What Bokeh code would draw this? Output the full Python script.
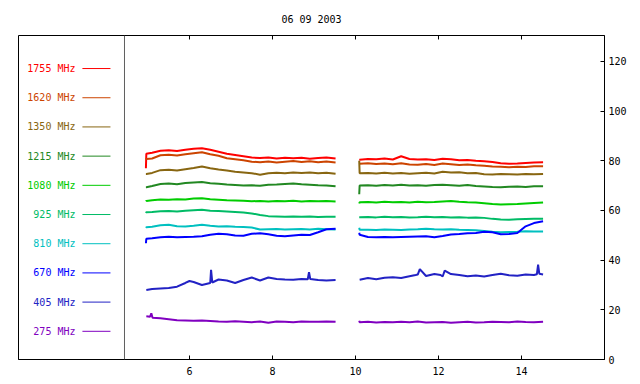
from bokeh.plotting import figure
from bokeh.models import LinearAxis, FixedTicker, Span, Label, Range1d
from bokeh.core.properties import value
from bokeh.embed import file_html
from bokeh.resources import INLINE

TITLE = "06 09 2003"
FREQS = ["1755 MHz", "1620 MHz", "1350 MHz", "1215 MHz", "1080 MHz",
         "925 MHz", "810 MHz", "670 MHz", "405 MHz", "275 MHz"]
COLORS = ["#FF0000", "#CC4400", "#886611", "#228822", "#00CC00",
          "#00BB66", "#00C0C0", "#0000FF", "#2222C4", "#8000C0"]
XTICKS = [6, 8, 10, 12, 14]
YTICKS = [0, 20, 40, 60, 80, 100, 120]

# time axes (UT hours)
t1 = [4.95, 4.96, 5.1, 5.3, 5.5, 5.7, 5.9, 6.1, 6.3, 6.5, 6.7, 6.9, 7.1, 7.3,
      7.5, 7.7, 7.9, 8.1, 8.3, 8.5, 8.7, 8.9, 9.1, 9.3, 9.52]
t2 = [10.09, 10.1, 10.3, 10.5, 10.7, 10.9, 11.1, 11.3, 11.5, 11.7, 11.9, 12.1,
      12.3, 12.5, 12.7, 12.9, 13.1, 13.3, 13.5, 13.7, 13.9, 14.1, 14.3, 14.52]
t405_1 = [4.96, 5.1, 5.3, 5.5, 5.7, 5.9, 6.0, 6.1, 6.2, 6.3, 6.45, 6.5, 6.52,
          6.55, 6.7, 6.9, 7.1, 7.3, 7.5, 7.7, 7.9, 8.1, 8.3, 8.5, 8.7, 8.85,
          8.88, 8.91, 9.1, 9.3, 9.52]
t405_2 = [10.1, 10.3, 10.5, 10.7, 10.9, 11.1, 11.3, 11.45, 11.5, 11.55, 11.7,
          11.9, 12.05, 12.1, 12.15, 12.3, 12.5, 12.7, 12.9, 13.1, 13.3, 13.5,
          13.7, 13.9, 14.1, 14.3, 14.37, 14.4, 14.43, 14.52]
t275_1 = [4.96, 5.05, 5.08, 5.11, 5.3, 5.5, 5.7, 5.9, 6.1, 6.3, 6.5, 6.7, 6.9,
          7.1, 7.3, 7.5, 7.7, 7.9, 8.1, 8.3, 8.5, 8.7, 8.9, 9.1, 9.3, 9.52]

# flux values (sfu) per frequency, morning segment / afternoon segment
f1755_a = [77.0, 82.8, 83.2, 84.0, 84.2, 83.9, 84.4, 84.8, 85.0, 84.4, 83.6,
           82.8, 82.3, 81.8, 81.3, 81.1, 81.3, 80.9, 81.2, 81.0, 81.2, 80.8,
           81.1, 81.3, 80.9]
f1755_b = [80.4, 80.4, 80.7, 80.6, 80.9, 80.5, 81.8, 80.7, 80.5, 80.6, 80.3,
           80.8, 80.6, 80.2, 80.3, 80.0, 79.8, 79.5, 79.0, 78.8, 78.9, 79.1,
           79.3, 79.4]
f1620_a = [80.5, 80.7, 80.9, 82.2, 82.4, 82.1, 82.6, 83.0, 83.4, 82.6, 82.0,
           81.0, 80.6, 80.2, 79.6, 79.4, 79.7, 79.3, 79.6, 79.9, 79.5, 79.8,
           79.4, 79.7, 79.3]
f1620_b = [78.8, 78.8, 79.0, 78.7, 78.9, 78.6, 79.0, 78.5, 78.4, 78.7, 78.3,
           78.9, 78.6, 78.3, 78.5, 78.2, 78.0, 77.7, 77.6, 77.4, 77.6, 77.5,
           77.8, 77.8]
f1350_a = [74.7, 74.7, 75.1, 76.2, 76.4, 76.1, 76.6, 77.1, 77.7, 77.0, 76.5,
           76.1, 75.6, 75.3, 75.0, 74.4, 75.0, 75.2, 75.0, 75.3, 75.1, 75.3,
           75.0, 75.2, 74.8]
f1350_b = [80.0, 75.0, 75.1, 74.9, 75.2, 74.9, 75.1, 74.8, 75.0, 75.2, 74.9,
           75.6, 75.3, 75.4, 75.0, 75.1, 74.6, 74.5, 74.7, 74.6, 74.5, 74.7,
           74.6, 74.7]
f1215_a = [69.3, 69.3, 69.8, 70.6, 70.8, 70.5, 71.0, 71.2, 71.4, 70.9, 70.7,
           70.4, 70.2, 70.0, 70.1, 69.9, 70.3, 70.4, 70.6, 70.8, 70.5, 70.3,
           70.1, 70.0, 69.7]
f1215_b = [66.5, 70.0, 70.1, 69.9, 70.2, 70.0, 70.3, 70.0, 70.1, 69.9, 70.2,
           70.3, 70.1, 69.9, 70.2, 69.8, 69.6, 69.4, 69.3, 69.5, 69.6, 69.4,
           69.7, 69.7]
f1080_a = [63.6, 63.8, 64.1, 64.4, 64.3, 64.5, 64.4, 64.8, 64.9, 64.5, 64.3,
           64.1, 64.0, 63.9, 63.7, 63.8, 63.6, 63.8, 63.7, 63.9, 63.6, 63.8,
           63.7, 63.8, 63.6]
f1080_b = [62.8, 63.3, 63.4, 63.2, 63.5, 63.3, 63.4, 63.2, 63.5, 63.3, 63.4,
           63.6, 63.8, 63.5, 63.3, 63.2, 62.9, 62.6, 62.4, 62.5, 62.6, 62.8,
           63.0, 63.2]
f925_a = [59.0, 59.3, 59.4, 59.7, 59.8, 59.6, 59.9, 60.1, 60.3, 59.9, 59.8,
          59.6, 59.4, 59.2, 58.8, 58.2, 57.7, 57.6, 57.5, 57.6, 57.5, 57.6,
          57.4, 57.5, 57.5]
f925_b = [57.3, 57.3, 57.4, 57.2, 57.5, 57.3, 57.4, 57.2, 57.3, 57.5, 57.3,
          57.4, 57.2, 57.3, 57.1, 57.2, 57.0, 56.6, 56.3, 56.2, 56.4, 56.5,
          56.6, 56.6]
f810_a = [53.0, 53.2, 53.4, 54.0, 54.2, 53.6, 53.5, 53.8, 54.2, 53.8, 53.5,
          53.6, 53.4, 53.3, 53.1, 52.3, 52.4, 52.5, 52.3, 52.4, 52.5, 52.3,
          52.6, 52.4, 52.3]
f810_b = [53.0, 52.2, 52.2, 52.1, 52.3, 52.2, 52.1, 52.3, 52.4, 52.6, 52.4,
          52.3, 52.4, 52.2, 52.1, 52.0, 51.7, 51.4, 51.2, 51.3, 51.4, 51.6,
          51.5, 51.5]
f670_a = [46.8, 48.6, 48.8, 49.2, 49.4, 49.2, 49.3, 49.4, 49.6, 50.2, 50.6,
          50.4, 49.9, 49.8, 50.6, 50.8, 50.4, 49.8, 49.6, 49.9, 50.2, 50.1,
          51.2, 52.4, 52.6]
f670_b = [51.0, 50.2, 49.3, 49.2, 49.3, 49.2, 49.3, 49.4, 49.5, 49.6, 49.2,
          49.7, 50.3, 50.5, 50.8, 50.9, 51.4, 51.2, 50.4, 50.5, 50.9, 53.6,
          54.9, 55.6]
f405_a = [28.0, 28.4, 28.6, 28.8, 29.3, 30.8, 31.6, 31.2, 30.6, 30.0, 30.6,
          30.8, 36.1, 31.0, 32.2, 31.8, 30.8, 32.0, 33.0, 31.8, 33.0, 32.4,
          32.2, 32.1, 32.4, 32.3, 35.1, 32.4, 32.0, 31.8, 32.0]
f405_b = [32.1, 32.8, 32.3, 32.9, 33.1, 32.8, 33.5, 34.0, 34.2, 36.4, 33.6,
          34.4, 34.0, 33.4, 35.8, 34.4, 34.0, 33.5, 33.8, 33.4, 34.0, 34.5,
          33.9, 33.7, 34.2, 34.0, 34.3, 38.2, 34.5, 34.2]
f275_a = [17.4, 17.2, 18.6, 16.8, 16.6, 16.2, 15.8, 15.7, 15.6, 15.7, 15.5,
          15.3, 15.2, 15.4, 15.2, 15.0, 15.3, 14.8, 15.3, 15.2, 15.0, 15.3,
          15.2, 15.2, 15.3, 15.2]
f275_b = [15.6, 15.0, 15.2, 14.9, 15.1, 15.0, 15.2, 15.0, 15.3, 14.9, 15.0,
          15.1, 14.8, 15.0, 15.2, 14.9, 15.0, 15.2, 15.1, 15.0, 15.3, 15.1,
          15.0, 15.2]

SERIES = [
    ((t1, f1755_a), (t2, f1755_b)),
    ((t1, f1620_a), (t2, f1620_b)),
    ((t1, f1350_a), (t2, f1350_b)),
    ((t1, f1215_a), (t2, f1215_b)),
    ((t1, f1080_a), (t2, f1080_b)),
    ((t1, f925_a), (t2, f925_b)),
    ((t1, f810_a), (t2, f810_b)),
    ((t1, f670_a), (t2, f670_b)),
    ((t405_1, f405_a), (t405_2, f405_b)),
    ((t275_1, f275_a), (t2, f275_b)),
]

FONT = "DejaVu Sans Mono"
FS = "10px"
X_MIN, X_MAX = 1.88, 16.0
Y_MIN, Y_MAX = 0.0, 130.4

p = figure(width=632, height=378, output_backend="svg", toolbar_location=None,
           x_range=Range1d(X_MIN, X_MAX), y_range=Range1d(Y_MIN, Y_MAX),
           x_axis_location=None, y_axis_location=None,
           min_border_left=18, min_border_right=28, min_border_top=35,
           min_border_bottom=19, title=TITLE)
p.grid.visible = False
p.outline_line_color = "black"
p.outline_line_width = 1
p.background_fill_color = "white"
p.border_fill_color = "white"

p.title.align = "center"
p.title.text_font = FONT
p.title.text_font_size = FS
p.title.text_font_style = "normal"
p.title.text_color = "black"
p.title.standoff = 22

def style_axis(ax):
    ax.major_tick_in = 4
    ax.major_tick_out = 0
    ax.minor_tick_in = 0
    ax.minor_tick_out = 0
    ax.axis_line_color = "black"
    ax.major_tick_line_color = "black"
    ax.major_label_text_font = FONT
    ax.major_label_text_font_size = FS
    ax.major_label_text_color = "black"

bottom = LinearAxis(ticker=FixedTicker(ticks=XTICKS))
style_axis(bottom)
bottom.major_label_standoff = 7
p.add_layout(bottom, "below")

right = LinearAxis(ticker=FixedTicker(ticks=YTICKS))
style_axis(right)
right.major_label_standoff = 4
p.add_layout(right, "right")

# inward tick marks along the top edge, at the same hours as the bottom axis
TOP_TICK_LEN = 1.6
p.segment(x0=XTICKS, y0=[Y_MAX] * len(XTICKS), x1=XTICKS,
          y1=[Y_MAX - TOP_TICK_LEN] * len(XTICKS), line_color="black",
          line_width=1)

# separator between legend panel and data
UT_X = 4.434
p.add_layout(Span(location=UT_X, dimension="height", line_color="#606060",
                  line_width=1))
p.add_layout(Label(x=UT_X, y=0, text="UT", y_offset=-12, text_font=FONT,
                   text_font_size=FS, text_align="center",
                   text_baseline="middle", text_color="black"))

# data traces
for (seg_a, seg_b), col in zip(SERIES, COLORS):
    for tt, vv in (seg_a, seg_b):
        p.line(tt, vv, line_color=col, line_width=2)

# legend panel (label then colour sample)
LEG_TEXT_X = 3.253
LEG_LINE_X0 = 3.42
LEG_LINE_X1 = 4.096
LEG_TOP = 117.1
LEG_STEP = 11.75
n = len(FREQS)
leg_y = [LEG_TOP - i * LEG_STEP for i in range(n)]
p.text(x=[LEG_TEXT_X] * n, y=leg_y, text=FREQS, text_color=COLORS,
       text_font=value(FONT), text_font_size=FS, text_align="right",
       text_baseline="middle")
p.segment(x0=[LEG_LINE_X0] * n, y0=leg_y, x1=[LEG_LINE_X1] * n, y1=leg_y,
          line_color=COLORS, line_width=1)

open("out.html", "w").write(file_html(p, INLINE))
